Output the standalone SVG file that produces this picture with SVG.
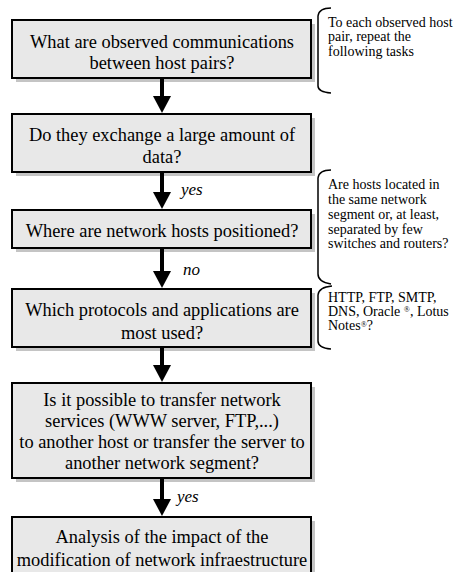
<svg xmlns="http://www.w3.org/2000/svg" width="460" height="572" viewBox="0 0 460 572">
<style>
.sh{fill:#c4c4c4;stroke:none}
.bx{fill:#e8e8e8;stroke:#000;stroke-width:2}
.t{font-family:"Liberation Serif","Times New Roman",serif;font-size:18.4px;fill:#000;text-anchor:middle}
.s{font-family:"Liberation Serif","Times New Roman",serif;font-size:14px;fill:#000}
.l{font-family:"Liberation Serif","Times New Roman",serif;font-size:17px;font-style:italic;fill:#000}
.br{fill:none;stroke:#000;stroke-width:1.5}
.sh2{stroke:#000;stroke-width:4}
.sup{font-size:8px}
</style>
<rect width="460" height="572" fill="#fff"/>
<g id="node1">
<rect class="sh" x="16" y="24" width="299" height="58"/>
<rect class="bx" x="12" y="20" width="299" height="58"/>
<text class="t" x="162" y="48">What are observed communications</text>
<text class="t" x="162" y="69">between host pairs?</text>
</g>
<g id="node2">
<rect class="sh" x="16" y="118" width="299" height="58"/>
<rect class="bx" x="12" y="114" width="299" height="58"/>
<text class="t" x="162" y="141">Do they exchange a large amount of</text>
<text class="t" x="162" y="163">data?</text>
</g>
<g id="node3">
<rect class="sh" x="16" y="214" width="299" height="38"/>
<rect class="bx" x="12" y="210" width="299" height="38"/>
<text class="t" x="162" y="237">Where are network hosts positioned?</text>
</g>
<g id="node4">
<rect class="sh" x="16" y="293" width="299" height="58"/>
<rect class="bx" x="12" y="289" width="299" height="58"/>
<text class="t" x="162" y="316">Which protocols and applications are</text>
<text class="t" x="162" y="339">most used?</text>
</g>
<g id="node5">
<rect class="sh" x="16" y="387" width="299" height="95"/>
<rect class="bx" x="12" y="383" width="299" height="95"/>
<text class="t" x="162" y="406">Is it possible to transfer network</text>
<text class="t" x="162" y="427">services (WWW server, FTP,...)</text>
<text class="t" x="162" y="448">to another host or transfer the server to</text>
<text class="t" x="162" y="469">another network segment?</text>
</g>
<g id="node6">
<rect class="sh" x="16" y="521" width="299" height="70"/>
<rect class="bx" x="12" y="517" width="299" height="70"/>
<text class="t" x="162" y="543">Analysis of the impact of the</text>
<text class="t" x="162" y="566">modification of network infraestructure</text>
</g>
<g id="connectors">
<line class="sh2" x1="162" y1="79" x2="162" y2="97"/>
<polygon points="153,96 171,96 162,113"/>
<line class="sh2" x1="162" y1="173" x2="162" y2="193"/>
<polygon points="153,192 171,192 162,209"/>
<line class="sh2" x1="162" y1="249" x2="162" y2="272"/>
<polygon points="153,271 171,271 162,288"/>
<line class="sh2" x1="162" y1="348" x2="162" y2="366"/>
<polygon points="153,365 171,365 162,382"/>
<line class="sh2" x1="162" y1="479" x2="162" y2="500"/>
<polygon points="153,499 171,499 162,516"/>
<text class="l" x="181" y="195">yes</text>
<text class="l" x="183" y="275">no</text>
<text class="l" x="177" y="502">yes</text>
</g>
<g id="note1">
<path class="br" d="M331,8 Q319,8 318,16 L318,86 Q318,92 331,93"/>
<text class="s" x="328" y="27">To each observed host</text>
<text class="s" x="328" y="41">pair,  repeat the</text>
<text class="s" x="328" y="56">following tasks</text>
</g>
<g id="note2">
<path class="br" d="M331,170 Q319,170 318,178 L318,274 Q318,282 331,284"/>
<text class="s" x="328" y="189">Are hosts located in</text>
<text class="s" x="328" y="204">the same network</text>
<text class="s" x="328" y="219">segment or, at least,</text>
<text class="s" x="328" y="234">separated by few</text>
<text class="s" x="328" y="248">switches and  routers?</text>
</g>
<g id="note3">
<path class="br" d="M332,286 Q319,287 318,295 L318,341 Q318,348 331,349"/>
<text class="s" x="328" y="302">HTTP, FTP, SMTP,</text>
<text class="s" x="328" y="316">DNS, Oracle <tspan class="sup" dy="-4">®</tspan><tspan dy="4">, Lotus</tspan></text>
<text class="s" x="328" y="330">Notes<tspan class="sup" dy="-3">®</tspan><tspan dy="3">?</tspan></text>
</g>
</svg>
